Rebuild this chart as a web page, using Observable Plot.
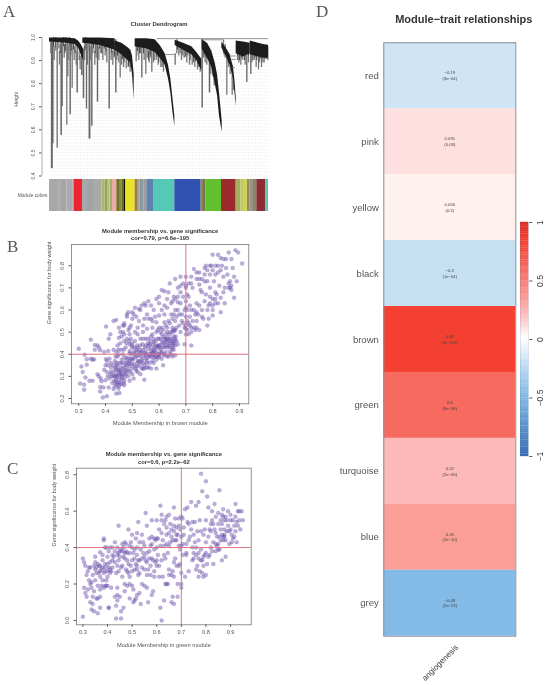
<!DOCTYPE html>
<html><head><meta charset="utf-8">
<script src="https://cdn.jsdelivr.net/npm/d3@7"></script>
<script src="https://cdn.jsdelivr.net/npm/@observablehq/plot@0.6"></script>
<style>
html,body{margin:0;padding:0;background:#fff}
#page{position:relative;width:551px;height:685px;overflow:hidden;filter:blur(.5px);font-family:"Liberation Sans",sans-serif}
#page svg{position:absolute;overflow:visible;background:none}
.tag{position:absolute;font-family:"Liberation Serif",serif;font-size:17px;line-height:17px;color:#555}
</style></head><body><div id="page"></div>
<script>
// ---------- Panel A: dendrogram (leaf position, merge height) ----------
const bandGrey=[[148,.998,.98],[170,.998,.978],[200,.998,.975],[225,.995,.97],[235,.985,.955],[243,.97,.925],[250,.95,.9]];
const bandSecond=[[248,.998,.975],[300,.998,.965],[345,.995,.945]];
const bandThird=[[345,.985,.945],[365,.975,.925],[380,.96,.905],[392,.945,.89],[397,.92,.84],[402,.84,.73]];
const bandFourth=[[405,.995,.96],[440,.995,.95],[465,.99,.935],[480,.965,.91],[495,.93,.88],[505,.88,.82],[512,.82,.76],[518,.74,.68],[524,.66,.615]];
const bandFifth=[[525,.988,.965],[550,.975,.945],[575,.96,.925],[590,.935,.9],[605,.905,.855]];
const bandSixth=[[606,.99,.95],[622,.975,.91],[635,.94,.87],[645,.89,.8],[652,.84,.75],[658,.76,.66],[666,.64,.59]];
const bandSeventh=[[665,.98,.955],[678,.955,.92],[690,.925,.88],[700,.87,.82],[705,.8,.75],[708,.74,.7]];
const bandEighth=[[708,.985,.93],[730,.98,.915],[750,.975,.93]];
const bandNinth=[[750,.985,.925],[775,.975,.915],[790,.97,.91],[805,.965,.91]];
const bands=[bandGrey,bandSecond,bandThird,bandFourth,bandFifth,bandSixth,bandSeventh,bandEighth,bandNinth];
const longDrops=[[155,.98,.432,2],[158,.98,.54,1.6],[171,.98,.52,1.3],[183,.98,.575,1.6],[186,.98,.70,1.4],[200,.98,.62,1.2],[203,.98,.83,1.2],[210,.98,.665,1.5],[216,.98,.78,1.2],[231,.97,.76,1.5],[245,.95,.835,1.6],[250,.95,.735,1.6],[259,.97,.69,1.4],[268,.97,.56,2],[275,.97,.615,1.5],[292,.97,.72,1.5],[327,.96,.69,1.5],[347,.99,.76,1.5],[360,.95,.825,1.2],[378,.92,.865,1.2],[408,.97,.895,1.2],[425,.96,.825,1.4],[437,.95,.84,1.2],[455,.95,.85,1.3],[525,.93,.88,1.3],[606,.99,.695,1.5],[628,.94,.76,1.6],[680,.93,.75,1.2],[696,.88,.75,1.2],[740,.95,.805,1.4],[752,.95,.84,1.4],[775,.93,.86,1.2],[800,.92,.905,1.2]];
const midDrops=[[152,.93],[162,.9],[167,.94],[178,.88],[192,.91],[196,.94],[206,.9],[212,.92],[222,.9],[228,.88],[240,.86],[253,.9],[257,.94],[262,.88],[272,.9],[278,.93],[284,.88],[288,.91],[296,.9],[302,.93],[308,.9],[315,.92],[320,.89],[333,.9],[338,.88],[343,.92],[350,.9],[356,.89],[364,.88],[370,.87],[384,.87],[390,.85],[410,.92],[416,.9],[421,.93],[432,.9],[441,.91],[447,.89],[452,.91],[460,.89],[468,.9],[474,.88],[482,.87],[490,.85],[530,.93],[536,.92],[544,.9],[552,.91],[560,.89],[568,.88],[576,.88],[584,.87],[592,.86],[600,.85],[610,.91],[615,.89],[620,.88],[632,.84],[638,.83],[642,.79],[670,.93],[675,.91],[685,.87],[690,.84],[700,.77],[712,.9],[716,.89],[722,.88],[728,.9],[735,.88],[745,.89],[755,.89],[762,.9],[768,.87],[778,.89],[784,.87],[792,.89],[798,.91],[803,.9]];
const shortDrops=[[160,.96],[165,.955],[176,.95],[180,.93],[190,.96],[194,.93],[207,.96],[213,.94],[220,.945],[225,.93],[237,.9],[254,.95],[263,.94],[280,.95],[285,.93],[298,.95],[305,.93],[312,.95],[318,.94],[335,.93],[342,.91],[352,.92],[367,.905],[372,.89],[385,.875],[390,.87],[412,.94],[418,.93],[430,.93],[445,.9],[450,.92],[462,.9],[470,.915],[476,.89],[486,.87],[532,.945],[540,.93],[548,.92],[556,.915],[563,.92],[570,.9],[580,.89],[586,.895],[596,.87],[612,.92],[618,.91],[640,.85],[672,.92],[684,.89],[712,.92],[718,.9],[724,.91],[733,.9],[745,.92],[758,.9],[764,.91],[770,.9],[782,.905],[788,.89],[795,.905]];
const topLinks=[[470,805,.995],[605,668,.99],[497,525,.926],[690,708,.92],[695,708,.905],[696,706,.87]];
// ---------- Panel A: module colour strip ----------
const stripEnds=[160,172,184,200,218,222,247,262,280,305,315,322,330,337,350,358,366,372,377,405,412,420,432,440,462,524,603,610,617,664,708,722,730,742,750,760,770,797,805];
const stripColors=["#a9a8aa","#a5aaa5","#b0abae","#a8a6a4","#a9acae","#b39f9f","#ee2430","#a6a8aa","#9fa5a6","#a9aaa8","#b0b66e","#8fa563","#c0bf6a","#a8aa7a","#eeaaa4","#6f7428","#8a8a38","#5f6420","#0c0c0a","#e8e325","#9a7d4e","#a8a088","#8c99a5","#a49a96","#5f82ae","#55c9b6","#2f52b0","#8f8a55","#7b6f4a","#62c02e","#9a2a2d","#a4ad60","#c2c765","#cfd35a","#8f8b72","#a0917c","#7f8a70","#8c2c33","#58c8ae"];
const hTicks=[.4,.5,.6,.7,.8,.9,1];

// ---------- Panel B: module membership vs gene significance, brown ----------
const brownPoints=[[.3,.425],[.305,.268],[.32,.262],[.32,.24],[.31,.345],[.315,.32],[.322,.398],[.325,.295],[.33,.352],[.33,.377],[.345,.465],[.34,.28],[.352,.28],[.345,.38],[.352,.375],[.357,.377],[.36,.42],[.36,.442],[.37,.44],[.375,.43],[.38,.418],[.37,.31],[.375,.3],[.382,.29],[.385,.278],[.38,.252],[.38,.232],[.392,.25],[.39,.205],[.405,.21],[.4,.282],[.395,.33],[.4,.35],[.402,.378],[.395,.41],[.41,.415],[.412,.47],[.418,.49],[.402,.525],[.43,.55],[.44,.555],[.43,.42],[.412,.25],[.415,.29],[.42,.32],[.42,.36],[.425,.27],[.43,.243],[.43,.3],[.435,.335],[.435,.37],[.44,.262],[.44,.285],[.44,.31],[.44,.345],[.445,.39],[.445,.295],[.45,.255],[.45,.275],[.45,.33],[.45,.36],[.452,.225],[.44,.222],[.455,.305],[.46,.265],[.46,.29],[.46,.325],[.46,.375],[.465,.34],[.465,.4],[.47,.26],[.47,.31],[.475,.355],[.48,.385],[.48,.33],[.485,.3],[.49,.28],[.49,.345],[.49,.37],[.495,.4],[.5,.31],[.5,.335],[.505,.355],[.505,.29],[.51,.385],[.515,.325],[.52,.345],[.52,.37],[.525,.41],[.53,.31],[.53,.39],[.535,.335],[.54,.36],[.545,.285],[.545,.335],[.55,.38],[.555,.34],[.56,.4],[.565,.36],[.57,.335],[.57,.415],[.58,.385],[.59,.375],[.59,.335],[.6,.39],[.61,.38],[.615,.35],[.62,.4],[.63,.39],[.64,.41],[.65,.39],[.655,.42],[.66,.395],
[.44,.41],[.445,.44],[.45,.475],[.455,.45],[.46,.48],[.465,.53],[.47,.46],[.47,.54],[.475,.43],[.48,.57],[.485,.59],[.49,.415],[.49,.445],[.49,.49],[.495,.47],[.5,.43],[.5,.59],[.505,.58],[.51,.61],[.51,.46],[.515,.42],[.52,.49],[.525,.605],[.53,.44],[.53,.47],[.535,.41],[.54,.5],[.545,.63],[.55,.44],[.55,.47],[.555,.515],[.56,.64],[.565,.445],[.57,.48],[.57,.62],[.575,.52],[.58,.42],[.58,.455],[.585,.57],[.59,.5],[.59,.65],[.595,.44],[.6,.47],[.6,.52],[.6,.575],[.605,.42],[.61,.49],[.61,.69],[.615,.45],[.62,.545],[.62,.58],[.625,.47],[.63,.43],[.63,.5],[.63,.61],[.635,.68],[.64,.45],[.64,.54],[.64,.47],[.645,.63],[.65,.5],[.65,.56],[.65,.43],[.655,.66],[.66,.47],[.66,.6],[.66,.74],[.665,.52],[.67,.445],[.67,.635],[.675,.58],[.68,.63],[.68,.75],[.685,.55],[.69,.72],[.695,.445],[.695,.52],[.7,.49],[.7,.53],[.7,.57],[.7,.61],[.7,.64],[.7,.71],[.7,.7],[.705,.51],[.705,.55],[.71,.49],[.71,.66],[.715,.53],[.72,.44],[.72,.5],[.72,.75],[.73,.52],[.73,.6],[.725,.7],[.73,.785],[.735,.51],[.74,.55],[.74,.74],[.74,.63],[.745,.58],[.75,.51],[.75,.77],[.755,.69],[.76,.6],[.76,.74],[.765,.56],[.77,.64],[.77,.79],[.775,.67],[.78,.53],[.78,.73],[.785,.56],[.785,.62],[.79,.7],[.79,.76],[.795,.8],[.8,.65],[.8,.6],[.805,.73],[.81,.63],[.81,.8],[.815,.67],[.82,.85],[.82,.77],[.825,.71],[.83,.59],[.83,.78],[.835,.8],[.84,.68],[.845,.63],[.85,.83],[.855,.76],[.86,.86],[.865,.7],[.87,.71],[.875,.79],[.88,.655],[.88,.75],[.885,.87],[.89,.73],[.895,.86],[.91,.81],[.87,.83],[.83,.835],[.8,.85],[.79,.8],[.77,.73],[.75,.715],[.76,.68],[.74,.77],[.72,.72],[.8,.62],[.81,.68],[.79,.66],[.775,.8],[.85,.79],[.86,.7],[.84,.75],[.865,.73],
[.47,.53],[.48,.58],[.45,.52],[.5,.45],[.52,.43],[.54,.42],[.55,.395],[.56,.425],[.575,.37],[.58,.47],[.59,.41],[.6,.44],[.61,.455],[.62,.43],[.625,.41],[.63,.465],[.64,.43],[.65,.46],[.655,.48],[.66,.44],[.645,.4],[.635,.39],[.6,.43],[.585,.39],[.57,.39],[.55,.41],[.53,.365],[.515,.39],[.5,.38],[.49,.405],[.47,.385],[.45,.4],[.44,.36],[.43,.32],[.46,.31],[.47,.28],[.45,.31],[.44,.33],[.435,.3],[.42,.34],[.41,.35],[.405,.32],[.405,.37],[.415,.38],[.47,.325],[.48,.35],[.49,.36],[.51,.345],[.52,.32],[.54,.335],[.56,.34],[.58,.36],[.59,.39],[.61,.41],[.62,.47],[.64,.49],[.66,.51],[.65,.52],[.63,.52],[.61,.52],[.595,.47],[.575,.49],[.56,.47],[.54,.47],[.58,.4],[.6,.4],[.62,.44],[.63,.44],[.65,.45],[.655,.45],[.665,.46],[.66,.55],[.67,.6],[.68,.5],[.69,.54],[.71,.54],[.72,.52],[.74,.52],[.7,.515],[.7,.75],[.71,.72],[.68,.68],[.67,.66],[.65,.64],[.62,.62],[.61,.6],[.6,.63],[.58,.6],[.56,.56],[.55,.62],[.53,.6],[.5,.56],[.52,.52],[.54,.53],[.57,.56],[.59,.545],[.51,.5],[.49,.52],[.48,.47],[.47,.49],[.535,.62],[.6,.66],[.63,.65],[.66,.65],[.64,.72],[.62,.685],[.78,.6],[.76,.57],[.8,.575],[.82,.63],[.79,.63],[.81,.65],[.72,.6],[.74,.59],[.75,.62],[.83,.655],[.845,.7],[.86,.72],[.87,.69],[.82,.8],[.84,.83],[.81,.76],[.77,.76],[.78,.78],[.8,.78],[.75,.74],
[.435,.255],[.438,.275],[.442,.3],[.447,.325],[.443,.35],[.448,.245],[.453,.265],[.457,.285],[.456,.34],[.458,.36],[.463,.3],[.468,.27],[.472,.295],[.474,.34],[.478,.31],[.476,.37],[.483,.36],[.487,.325],[.493,.32],[.497,.355],[.502,.375],[.507,.4],[.512,.335],[.518,.36],[.523,.395],[.528,.35],[.533,.405],[.538,.38],[.543,.395],[.548,.43],[.553,.36],[.558,.385],[.562,.44],[.568,.4],[.572,.43],[.578,.445],[.583,.415],[.587,.46],[.592,.43],[.597,.4],[.603,.44],[.607,.47],[.612,.43],[.617,.48],[.622,.455],[.627,.49],[.632,.475],[.637,.44],[.642,.5],[.647,.47],[.652,.44],[.657,.505],[.662,.48],[.653,.51],[.658,.46],[.648,.42],[.638,.46],[.628,.455],[.618,.395],[.608,.405],[.598,.385],[.588,.44],[.578,.405],[.568,.46],[.558,.45],[.548,.405],[.538,.445],[.528,.42],[.518,.44],[.508,.43],[.498,.44],[.488,.46],[.478,.45],[.468,.42],[.458,.42],[.448,.42],[.438,.39],[.428,.35],[.418,.31],[.408,.3],[.425,.3],[.432,.28],[.445,.27],[.455,.32],[.465,.36],[.475,.32],[.485,.38],[.495,.38],[.505,.41],[.515,.41],[.525,.37],[.535,.37],[.545,.35],[.555,.37],[.565,.39],[.575,.41],[.585,.43],[.595,.51],[.605,.5],[.615,.51],[.625,.53],[.635,.55],[.645,.58],[.655,.58],[.665,.57],[.675,.53],[.685,.58],[.695,.6],[.705,.6],[.715,.57],[.725,.55],[.735,.58],[.715,.62],[.705,.67],[.69,.66],[.68,.71],[.67,.7],[.575,.55],[.555,.58],[.545,.56],[.525,.55],[.515,.57],[.495,.53],[.485,.51],[.465,.5],[.455,.5]];

// ---------- Panel C: module membership vs gene significance, green ----------
const greenPoints=[[.3,.02],[.3,.34],[.305,.32],[.31,.3],[.305,.18],[.31,.15],[.315,.13],[.32,.17],[.32,.27],[.325,.29],[.33,.2],[.335,.21],[.33,.1],[.335,.06],[.34,.09],[.345,.05],[.345,.16],[.35,.22],[.35,.28],[.35,.35],[.355,.26],[.355,.12],[.36,.19],[.36,.31],[.36,.04],[.365,.3],[.37,.07],[.37,.13],[.37,.24],[.37,.375],[.375,.28],[.375,.19],[.38,.33],[.38,.36],[.385,.45],[.385,.44],[.385,.26],[.39,.19],[.39,.27],[.39,.31],[.395,.4],[.395,.22],[.4,.35],[.4,.24],[.4,.19],[.405,.07],[.405,.07],[.405,.29],[.41,.4],[.41,.32],[.415,.27],[.415,.18],[.42,.36],[.42,.4],[.43,.13],[.43,.43],[.435,.01],[.435,.08],[.435,.26],[.44,.36],[.44,.18],[.445,.52],[.445,.33],[.445,.27],[.45,.13],[.455,.01],[.455,.05],[.455,.39],[.46,.42],[.46,.3],[.46,.24],[.465,.35],[.465,.07],[.47,.16],[.47,.2],[.47,.43],[.475,.28],[.475,.38],[.48,.19],[.48,.33],[.485,.26],[.485,.5],[.49,.12],[.49,.37],[.495,.3],[.5,.4],[.5,.47],[.505,.17],[.505,.1],[.51,.34],[.51,.28],[.515,.12],[.515,.45],[.52,.36],[.52,.48],[.525,.54],[.525,.25],[.53,.15],[.53,.33],[.535,.39],[.535,.09],[.54,.2],[.54,.47],[.545,.43],[.55,.28],[.55,.35],[.555,.59],[.56,.52],[.56,.18],[.565,.1],[.57,.45],[.57,.38],[.575,.3],[.58,.55],[.58,.42],[.585,.16],[.59,.27],[.59,.45],[.595,.32],[.6,.55],[.6,.4],[.605,.36],[.61,.24],[.615,.63],[.615,.07],[.62,0],[.62,.33],[.62,.48],[.625,.24],[.63,.11],[.63,.36],[.635,.55],[.635,.2],[.64,.42],[.64,.47],[.645,.2],[.65,.28],[.65,.58],[.655,.43],[.66,.5],[.665,.13],[.665,.27],[.67,.62],[.67,.09],[.67,.24],[.675,.56],[.675,.34],[.68,.44],[.685,.2],[.685,.13],[.69,.52],[.69,.3],[.695,.5],[.695,.39],[.7,.57],[.7,.2],[.7,.26],[.705,.42],[.71,.51],[.715,.24],[.715,.61],[.72,.37],[.725,.62],[.73,.27],[.73,.53],[.735,.46],[.74,.65],[.745,.54],[.75,.34],[.755,.43],[.76,.36],[.76,.63],[.765,.49],[.77,.65],[.77,.24],[.775,.27],[.78,.805],[.78,.39],[.785,.71],[.785,.33],[.79,.24],[.79,.47],[.795,.5],[.8,.25],[.8,.765],[.8,.55],[.805,.31],[.805,.68],[.81,.62],[.815,.36],[.82,.53],[.82,.49],[.825,.6],[.83,.31],[.83,.43],[.835,.64],[.84,.38],[.84,.57],[.845,.41],[.85,.39],[.85,.59],[.855,.715],[.855,.46],[.86,.5],[.865,.33],[.865,.53],[.87,.61],[.87,.44],[.875,.47],[.88,.57],[.88,.35],[.885,.49],[.89,.6],[.895,.42],[.9,.55],[.9,.5],[.905,.47],[.91,.45],[.915,.52],[.92,.64],[.92,.57],[.925,.43],[.93,.6],[.935,.55],[.94,.5],[.945,.6],[.95,.55],
[.315,.25],[.325,.22],[.34,.25],[.345,.3],[.355,.29],[.365,.26],[.37,.3],[.38,.22],[.39,.4],[.4,.27],[.405,.38],[.41,.26],[.42,.29],[.425,.35],[.43,.38],[.44,.3],[.445,.37],[.45,.35],[.455,.29],[.46,.38],[.465,.4],[.47,.34],[.475,.42],[.48,.37],[.485,.31],[.49,.41],[.495,.43],[.5,.33],[.505,.37],[.51,.39],[.515,.31],[.52,.4],[.525,.33],[.53,.43],[.54,.34],[.545,.37],[.55,.41],[.555,.33],[.56,.37],[.565,.28],[.57,.34],[.575,.41],[.58,.46],[.585,.33],[.59,.39],[.595,.44],[.6,.3],[.605,.45],[.61,.5],[.615,.41],[.62,.55],[.625,.44],[.63,.41],[.635,.34],[.64,.51],[.645,.37],[.65,.41],[.655,.53],[.66,.25],[.665,.44],[.67,.49],[.675,.44],[.68,.51],[.685,.47],[.69,.41],[.695,.31],[.7,.41],[.7,.46],[.705,.36],[.71,.47],[.72,.42],[.725,.54],[.73,.44],[.74,.5],[.745,.33],[.75,.47],[.755,.54],[.76,.4],[.765,.3],[.77,.37],[.775,.55],[.78,.49],[.785,.26],[.79,.3],[.795,.36],[.8,.43],[.81,.46],[.815,.5],[.82,.4],[.825,.55],[.83,.53],[.835,.5],[.84,.42],[.845,.46],[.85,.53],[.855,.39],[.86,.55],[.865,.47],[.87,.57],[.875,.5],[.88,.44],[.885,.55],[.89,.52],[.895,.49],[.9,.58],[.905,.43],[.91,.55],[.915,.46],[.92,.49],[.925,.54],[.93,.52],[.935,.6],[.87,.46],[.86,.44],[.85,.42],[.875,.55],[.865,.58],[.84,.48],[.875,.46],[.825,.38],[.8,.37],[.81,.35],[.79,.35],[.78,.33],[.77,.34],[.77,.44],[.76,.28],[.75,.37],[.745,.4],[.72,.36],[.705,.56],[.69,.56],[.68,.47],[.67,.52],[.66,.46],[.65,.48],[.64,.57],[.63,.53],[.62,.58],[.6,.45],[.58,.34],[.56,.32],[.54,.29],[.52,.3],[.5,.27],[.49,.24],[.48,.27],[.47,.37],[.45,.38],[.44,.4],[.43,.32],[.42,.33],[.41,.28],[.4,.31],[.39,.29],[.38,.29],[.37,.27],[.35,.32],[.33,.29],[.335,.18],[.385,.18],[.395,.19],[.34,.13],[.36,.12],[.37,.17],[.44,.14],[.44,.11],[.49,.2],[.5,.19],[.51,.11],[.52,.14],[.55,.19],[.58,.14],[.59,.24],[.61,.3],[.64,.2],[.66,.1],[.7,.18],[.65,.25],[.67,.32],[.68,.3],[.6,.33],[.575,.25],[.56,.25],[.53,.26],[.52,.28]];

// ---------- Panel D: module-trait table ----------
const modules=["red","pink","yellow","black","brown","green","turquoise","blue","grey"];
const correlations=[-.19,.091,.056,-.2,.85,.6,.22,.33,-.49];
const pValues=["(3e−04)","(0.09)","(0.3)","(1e−04)","(6e−102)","(6e−36)","(2e−05)","(2e−10)","(2e−23)"];
const corText=["−0.19","0.091","0.056","−0.2","0.85","0.6","0.22","0.33","−0.49"];
const traits=["angiogenesis"];
const colorStops=[-1,-.49,-.2,-.19,0,.056,.091,.22,.33,.6,.85,1];
const colorValues=["#3a6db5","#84bae6","#c5dff3","#cfe4f5","#ffffff","#fef1ee","#fde0df","#fcb9b7","#fa9e97","#f66a60","#f44030","#dc2c20"];
const barTicks=[-1,-.5,0,.5,1];
const barStep=.02;

const page=document.getElementById("page");
const place=(svg,l,t)=>{svg.style.left=l+"px";svg.style.top=t+"px";page.appendChild(svg)};
const font={fontFamily:"Liberation Sans, sans-serif",background:"none"};
const grey="#555";

// Panel A
const bandRows=bands.flatMap((b,i)=>b.map(([leaf,top,bottom])=>({leaf,top,bottom,i})));
place(Plot.plot({
  width:290,height:180,marginLeft:49,marginRight:22,marginTop:37,marginBottom:4.5,style:font,
  x:{domain:[148,805],axis:null},y:{domain:[.4,1]},
  marks:[
    Plot.gridX(d3.range(150,805,7),{stroke:"#c9c9c9",strokeDasharray:"1 2.2",strokeOpacity:.4,y1:.4,y2:.96}),
    Plot.ruleX(longDrops,{x:d=>d[0],y1:d=>d[1],y2:d=>d[2],strokeWidth:d=>d[3]*.95,stroke:"#666"}),
    Plot.ruleX(midDrops,{x:d=>d[0],y1:d=>d[1]+.06,y2:d=>d[1],strokeWidth:1.3,stroke:"#777"}),
    Plot.ruleX(shortDrops,{x:d=>d[0],y1:d=>d[1]+.04,y2:d=>d[1],strokeWidth:.8,stroke:"#333"}),
    Plot.areaY(bandRows,{x:"leaf",y1:"top",y2:"bottom",z:"i",fill:"#1c1c1c",curve:"linear"}),
    Plot.ruleY(topLinks,{x1:d=>d[0],x2:d=>d[1],y:d=>d[2],stroke:"#666",strokeWidth:.7}),
    Plot.ruleX([148],{y1:.4,y2:1,dx:-7.5,stroke:grey,strokeWidth:.5}),
    Plot.axisY({ticks:hTicks,tickSize:2.5,tickPadding:5,dx:-7.5,tickRotate:-90,fontSize:5,tickFormat:".1f",label:null,stroke:grey,color:grey}),
    Plot.text(["Cluster Dendrogram"],{frameAnchor:"top",dy:-16,fontWeight:"bold",fontSize:5.9,fill:"#333"}),
    Plot.text(["Height"],{frameAnchor:"left",dx:-33,rotate:-90,fontSize:5.2,fill:grey})
  ]}),0,0);
const stripRows=stripEnds.map((e,i)=>({x1:i?stripEnds[i-1]:148,x2:e,c:stripColors[i]}));
place(Plot.plot({
  width:290,height:34,marginLeft:49,marginRight:22,marginTop:1,marginBottom:1,style:font,
  x:{domain:[148,805],axis:null},y:{domain:[0,1],axis:null},
  marks:[
    Plot.rect(stripRows,{x1:"x1",x2:"x2",y1:()=>0,y2:()=>1,fill:"c"}),
    Plot.text(["Module colors"],{frameAnchor:"left",dx:-2,textAnchor:"end",fontSize:4.8,fill:grey})
  ]}),0,177.5);

// Scatter panels
function scatter(points,o){
  return Plot.plot({
    width:270,height:215,marginLeft:o.ml,marginRight:o.mr,marginTop:o.mt,marginBottom:o.mb,style:font,
    x:{domain:o.xd,axis:null},y:{domain:o.yd,axis:null},
    marks:[
      Plot.dot(points,{x:d=>d[0],y:d=>d[1],r:2,fill:"#6f52ad",fillOpacity:.47,stroke:"#5a3fa0",strokeOpacity:.35,strokeWidth:.4}),
      Plot.ruleX([.7],{stroke:"#e0707f",strokeWidth:1}),
      Plot.ruleY([.4],{stroke:"#e0707f",strokeWidth:1}),
      Plot.frame({stroke:"#777",strokeWidth:.8}),
      Plot.axisX({ticks:o.xt,tickSize:2.5,tickPadding:3,fontSize:5.6,tickFormat:".1f",label:null,stroke:grey,color:grey}),
      Plot.axisY({ticks:o.yt,tickSize:2.5,tickPadding:5,tickRotate:-90,fontSize:5.6,tickFormat:".1f",label:null,stroke:grey,color:grey}),
      Plot.text(["Module membership vs. gene significance"],{frameAnchor:"top",dy:o.t1,fontWeight:"bold",fontSize:5.8,fill:"#333"}),
      Plot.text([o.sub],{frameAnchor:"top",dy:o.t1+7.6,fontWeight:"bold",fontSize:5.8,fill:"#333"}),
      Plot.text([o.xl],{frameAnchor:"bottom",dy:o.xld,fontSize:5.7,fill:grey}),
      Plot.text(["Gene significance for body weight"],{frameAnchor:"left",dx:o.yld,rotate:-90,fontSize:5.5,fill:grey})
    ]});
}
place(scatter(brownPoints,{ml:71,mr:21.7,mt:19,mb:36.7,xd:[.273,.935],yd:[.176,.896],
  xt:[.3,.4,.5,.6,.7,.8,.9],yt:[.2,.3,.4,.5,.6,.7,.8],t1:-16,sub:"cor=0.79, p=6.6e−195",
  xl:"Module Membership in brown module",xld:20.7,yld:-22}),0,225);
place(scatter(greenPoints,{ml:76,mr:19.3,mt:27.7,mb:30.7,xd:[.274,.984],yd:[-.024,.836],
  xt:[.3,.4,.5,.6,.7,.8,.9],yt:[0,.2,.4,.6,.8],t1:-16,sub:"cor=0.6, p=2.2e−62",
  xl:"Module Membership in green module",xld:21.7,yld:-22}),0,440);

// Panel D
const cellRows=modules.map((m,i)=>({m,c:correlations[i],t:corText[i],p:pValues[i],trait:traits[0]}));
const colorCfg={type:"linear",domain:colorStops,range:colorValues};
place(Plot.plot({
  width:251,height:685,marginLeft:83.3,marginRight:35.7,marginTop:42.3,marginBottom:49.3,style:font,
  x:{domain:traits,axis:null,padding:0,round:false},y:{domain:modules,axis:null,padding:0,round:false},color:colorCfg,
  marks:[
    Plot.cell(cellRows,{x:"trait",y:"m",fill:"c"}),
    Plot.text(cellRows,{x:"trait",y:"m",text:"t",dy:-3,fontSize:4.2,fill:"#444"}),
    Plot.text(cellRows,{x:"trait",y:"m",text:"p",dy:2.8,fontSize:4.2,fill:"#444"}),
    Plot.frame({stroke:"#86909c",strokeWidth:1}),
    Plot.axisY({tickSize:0,tickPadding:5,fontSize:9.5,label:null,color:"#555"}),
    Plot.axisX({tickSize:0,tickPadding:8,tickRotate:-45,fontSize:8,label:null,color:"#333",letterSpacing:-.4,dx:7,dy:2}),
    Plot.text(["Module−trait relationships"],{frameAnchor:"top",dy:-27.5,dx:14,fontWeight:"bold",fontSize:11,fill:"#333"})
  ]}),300,0);
const barRows=d3.range(-1,1,barStep).map(v=>({v}));
place(Plot.plot({
  width:51,height:280,marginLeft:20,marginRight:22.7,marginTop:22,marginBottom:24,style:font,
  x:{domain:[0,1],axis:null},y:{domain:[-1,1],axis:null},color:colorCfg,
  marks:[
    Plot.rect(barRows,{x1:()=>0,x2:()=>1,y1:d=>d.v,y2:d=>d.v+barStep+.002,fill:"v"}),
    Plot.frame({stroke:"#4c6f9c",strokeWidth:.4,strokeOpacity:.4}),
    Plot.axisY({anchor:"right",ticks:barTicks,tickSize:3,tickPadding:11,tickRotate:-90,fontSize:8.6,tickFormat:d3.format("~g"),label:null,color:"#444",stroke:"#555"})
  ]}),500,200);

// Panel letters
[["A",3,3],["B",7,238],["C",7,460],["D",316,3]].forEach(([t,l,top])=>{
  const d=document.createElement("div");d.className="tag";d.textContent=t;d.style.left=l+"px";d.style.top=top+"px";page.appendChild(d);
});
</script></body></html>
